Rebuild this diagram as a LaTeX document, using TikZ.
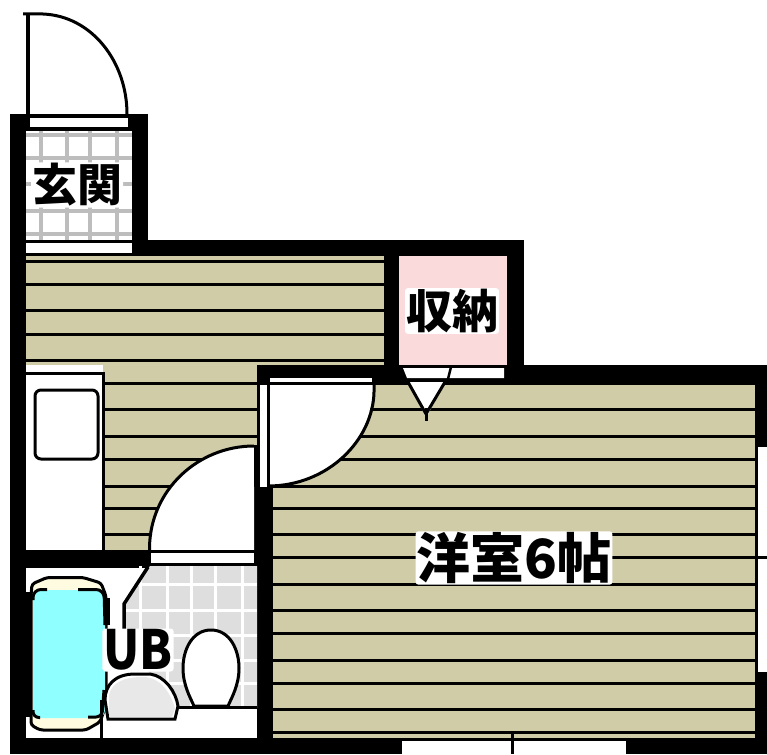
\documentclass[tikz,border=0pt]{standalone}
\usepackage{fontspec}
\newfontfamily\cjk{Noto Sans CJK JP}
\definecolor{floorbeige}{HTML}{D0CCA8}
\definecolor{closetpink}{HTML}{FADADA}
\definecolor{tubcyan}{HTML}{90FFFF}
\definecolor{tilegray}{HTML}{DEDEDE}
\definecolor{tileline}{HTML}{BDBDBD}
\definecolor{rimcream}{HTML}{FFFBE0}
\definecolor{seatgray}{HTML}{E8E8E8}
\tikzset{
  wall/.style={fill=black,draw=none},
  blank/.style={fill=white,draw=none},
  thin line/.style={draw=black,line width=3pt},
  board/.style={draw=black,line width=3pt},
  label text/.style={fill=white,inner sep=1pt,rounded corners=3pt,text=black,font=\cjk\bfseries}
}
\begin{document}
\begin{tikzpicture}[x=1pt,y=-1pt]
\useasboundingbox (0,0) rectangle (767,754);
\fill[white] (0,0) rectangle (767,754);
% floors
\fill[floorbeige] (26,256) rectangle (384,365);
\fill[floorbeige] (103,365) rectangle (257,550);
\fill[floorbeige] (273,385) rectangle (755,738);
\foreach \y in {261,284,310,334,360} \draw[board] (26,\y) -- (384,\y);
\foreach \y in {383,409,436,459,486,508,534} \draw[board] (103,\y) -- (257,\y);
\foreach \y in {409,436,459,486,508,534,557,584,610,633,660,683,709,732} \draw[board] (273,\y) -- (755,\y);
% walls
\fill[wall] (10,114) rectangle (148,256);
\fill[wall] (10,114) rectangle (26,754);
\fill[wall] (148,240) rectangle (524,256);
\fill[wall] (384,240) rectangle (524,366);
\fill[wall] (257,365) rectangle (767,382);
\fill[wall] (257,365) rectangle (374,385);
\fill[wall] (445,378) rectangle (767,385);
\fill[wall] (374,378) rectangle (409,385);
\fill[wall] (755,365) rectangle (767,447);
\fill[wall] (755,382) rectangle (758,738);
\fill[wall] (755,672) rectangle (767,754);
\fill[wall] (10,738) rectangle (767,754);
\fill[wall] (254,487) rectangle (273,754);
\fill[wall] (26,550) rectangle (150,568);
\fill[wall] (150,550) rectangle (254,566);
% right and bottom openings
\fill[blank] (758,447) rectangle (767,672);
\draw[thin line] (755,557) -- (767,557);
\fill[blank] (402,741) rectangle (626,754);
\draw[thin line] (512,732) -- (512,754);
% entrance
\fill[blank] (30,118) rectangle (128,127);
\fill[blank] (26,131) rectangle (132,240);
\foreach \y in {135,158,184,211,234} \draw[tileline,line width=3.5pt] (26,\y) -- (132,\y);
\foreach \x in {41,67,90,117} \draw[tileline,line width=3.5pt] (\x,131) -- (\x,240);
\fill[blank] (26,243) rectangle (132,253);
% entrance door
\draw[black,line width=4pt] (28,114) -- (28,14);
\draw[thin line] (23,14) -- (43,14) .. controls (92,16) and (127,62) .. (127,114);
% closet
\fill[closetpink] (399,256) rectangle (507,365);
\fill[blank] (403,368) -- (504,368) -- (504,378) -- (407,378) -- cycle;
\draw[black,line width=2.5pt] (451,367) -- (448,379);
\fill[blank] (409,382) -- (445,382) -- (426,418) -- cycle;
\draw[thin line] (408,382) -- (426,414) -- (445,382);
\draw[thin line] (426,408) -- (426,421);
% room door
\fill[blank] (270,378) rectangle (372,382);
\fill[blank] (260,385) rectangle (267,487);
\fill[blank] (273,385) -- (373,385) .. controls (373,440) and (328,486) .. (273,486) -- cycle;
\draw[thin line] (268.5,384) -- (268.5,487);
\draw[thin line] (258.5,382) -- (258.5,487);
\draw[thin line] (374,382) -- (374,392) .. controls (373,440) and (328,486) .. (268,486);
% kitchen
\fill[wall] (26,372) rectangle (105,550);
\fill[blank] (26,375) rectangle (102,550);
\draw[thin line,rounded corners=6pt] (35,390) rectangle (98,459);
% bath door
\fill[blank] (151,553) rectangle (254,563);
\fill[blank] (150,550) -- (150,548) .. controls (150,490) and (198,446) .. (254,446) -- (254,550) -- cycle;
\draw[thin line] (149.5,553) -- (149.5,548) .. controls (150,490) and (198,446) .. (254,446);
\fill[wall] (254,445) rectangle (259,487);
\draw[thin line] (150,551.5) -- (254,551.5);
% bath
\fill[blank] (26,568) rectangle (257,738);
\fill[tilegray] (150,566) -- (257,566) -- (257,708) -- (178,708) -- (123,640) -- (123,605) -- cycle;
\foreach \y in {584,610,635,660,683} \draw[white,line width=3pt] (125,\y) -- (257,\y);
\foreach \x in {140,167,191,215,242} \draw[white,line width=3pt] (\x,566) -- (\x,708);
\fill[blank] (100,640) -- (125,640) -- (125,606) -- (106,606) -- cycle;
\fill[blank] (26,568) -- (148,568) -- (124,604) -- (124,660) -- (100,690) -- (26,690) -- cycle;
\draw[black,line width=3.5pt] (148,567) -- (124,604) -- (124,630);
\draw[thin line] (178,707) -- (257,707);
% tub
\fill[wall] (26,592) rectangle (33,717);
\draw[black,line width=3pt,fill=rimcream,rounded corners=3pt] (31,596) -- (32,584) -- (47,577.5) -- (83,577.5) -- (101,583) -- (106,596) -- (106,705) -- (100,722) -- (86,730) -- (40,730) -- (31,725) -- (31,712) -- cycle;
\fill[tubcyan,rounded corners=8pt] (33,590) -- (105,590) -- (105,718) -- (33,718) -- cycle;
\draw[black,line width=3pt,rounded corners=8pt] (33,600) -- (33,589.5) -- (47,589.5);
\draw[black,line width=3pt,rounded corners=8pt] (78,589.5) -- (104,589.5) -- (105,625);
\draw[black,line width=3pt,rounded corners=6pt] (33,710) -- (33,717.5) -- (40,717.5);
\draw[black,line width=3pt,rounded corners=6pt] (88,717) -- (102,717) -- (104,690);
\draw[black,line width=5pt] (107,598) -- (107,625);
\draw[thin line] (101,700) -- (101,738);
% wash basin
\draw[thin line,fill=white] (105,700) .. controls (105,685) and (115,674) .. (135,674) -- (150,674) .. controls (165,676) and (176,692) .. (178,706) -- (175,719) -- (108,719) -- cycle;
\fill[seatgray] (109,717) -- (109,695) .. controls (112,682) and (125,677) .. (143,677) .. controls (160,677) and (170,692) .. (175,708) -- (172,717) -- cycle;
% toilet
\draw[thin line,fill=white] (211,630) .. controls (230,630) and (239,650) .. (239,668) .. controls (239,685) and (232,697) .. (228,706) -- (194,706) .. controls (190,697) and (183,685) .. (183,668) .. controls (183,650) and (192,630) .. (211,630) -- cycle;
% labels
\node[label text,font=\cjk\bfseries\fontsize{45}{45}\selectfont] (entry) at (77,185) {玄関};
\node[label text,font=\cjk\bfseries\fontsize{46}{46}\selectfont] (closet) at (452,311) {収納};
\node[label text,font=\cjk\bfseries\fontsize{54}{54}\selectfont] (room) at (514,558) {洋室6帖};
\node[label text,font=\cjk\bfseries\fontsize{54}{54}\selectfont] (ub) at (138,650) {\scalebox{0.88}[1]{UB}};
\end{tikzpicture}
\end{document}
